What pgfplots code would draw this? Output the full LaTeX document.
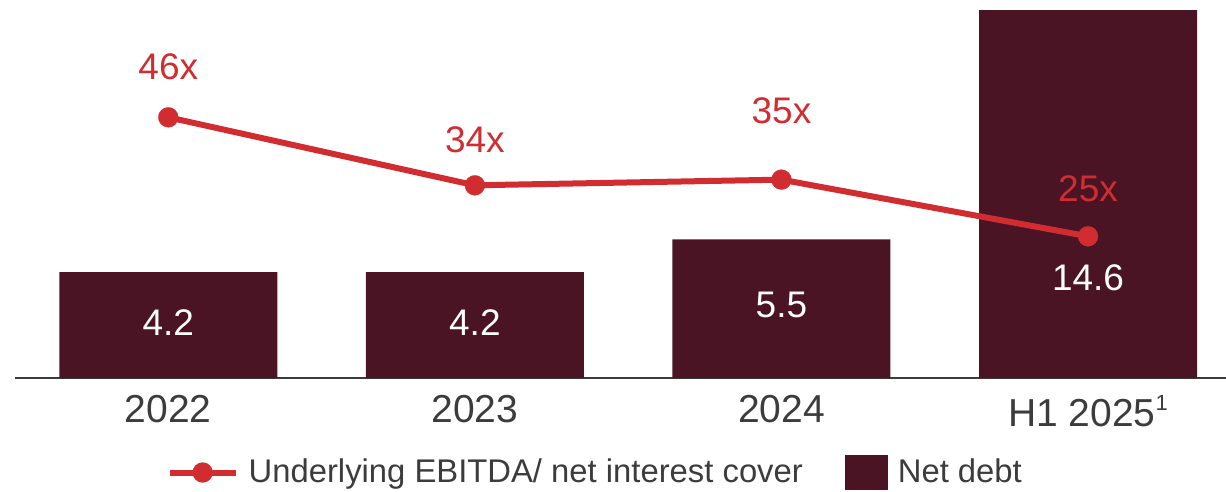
\documentclass[border=0pt]{standalone}
\usepackage{fontspec}
\setmainfont{Liberation Sans}
\usepackage{pgfplots}
\pgfplotsset{compat=1.18}

\definecolor{debt}{RGB}{74,20,37}
\definecolor{cover}{RGB}{209,45,48}
\definecolor{txt}{RGB}{60,60,60}
\newcommand{\lbl}{\fontsize{18.5bp}{22bp}\selectfont}

\pgfplotsset{
  longline legend/.style={legend image code/.code={%
    \draw[mark repeat=2,mark phase=2,##1] plot coordinates {(0bp,0bp) (16.5bp,0bp) (33bp,0bp)};}},
  box legend/.style={legend image code/.code={%
    \fill[##1] (0bp,-8.75bp) rectangle (21.5bp,8.75bp);}},
}

\begin{document}
\begin{tikzpicture}
% bars: net debt
\begin{axis}[
  scale only axis, width=605.5bp, height=189bp,
  xmin=-0.5, xmax=3.45, ymin=0, ymax=15,
  axis x line*=bottom, axis y line=none,
  x axis line style={-, draw=txt, line width=1bp},
  xtick={0,1,2,3},
  xticklabels={2022,2023,2024,H1 2025\raisebox{0.42em}{\fontsize{11bp}{11bp}\selectfont 1}},
  major tick length=0pt,
  xticklabel style={text=txt, font=\fontsize{19.5bp}{23bp}\selectfont, yshift=-5bp},
  legend style={draw=none, fill=none, at={(axis description cs:0.12,-0.25)}, anchor=west,
    font=\fontsize{16.4bp}{19bp}\selectfont, text=txt, legend columns=-1,
    /tikz/every odd column/.append style={column sep=3bp},
    /tikz/every even column/.append style={column sep=19bp}},
  clip=false,
]
\addlegendimage{cover, line width=3bp, mark=*, mark size=5bp, mark options={line width=0.1bp}, longline legend}
\addlegendentry{Underlying EBITDA/ net interest cover}
\addplot[ybar, bar width=109bp, bar shift=0pt, fill=debt, draw=none, box legend]
  coordinates {(0,4.2) (1,4.2) (2,5.5) (3,14.6)};
\addlegendentry{Net debt}
\node[text=white, font=\lbl] at (axis cs:0,2.2) {4.2};
\node[text=white, font=\lbl] at (axis cs:1,2.2) {4.2};
\node[text=white, font=\lbl] at (axis cs:2,2.9) {5.5};
\node[text=white, font=\lbl] at (axis cs:3,3.97) {14.6};
\end{axis}
% line: underlying EBITDA / net interest cover
\begin{axis}[
  scale only axis, width=605.5bp, height=189bp,
  xmin=-0.5, xmax=3.45, ymin=0, ymax=66.7,
  hide axis, clip=false,
]
\addplot[cover, line width=3bp, mark=*, mark size=5bp, mark options={line width=0.1bp}]
  coordinates {(0,46) (1,34) (2,35) (3,25)};
\node[text=cover, font=\lbl] at (axis cs:0,55.0) {46x};
\node[text=cover, font=\lbl] at (axis cs:1,42.0) {34x};
\node[text=cover, font=\lbl] at (axis cs:2,47.2) {35x};
\node[text=cover, font=\lbl] at (axis cs:3,33.4) {25x};
\end{axis}
\pgfresetboundingbox
\path (-7.5bp,-57bp) rectangle (605.5bp,189bp);
\end{tikzpicture}
\end{document}
